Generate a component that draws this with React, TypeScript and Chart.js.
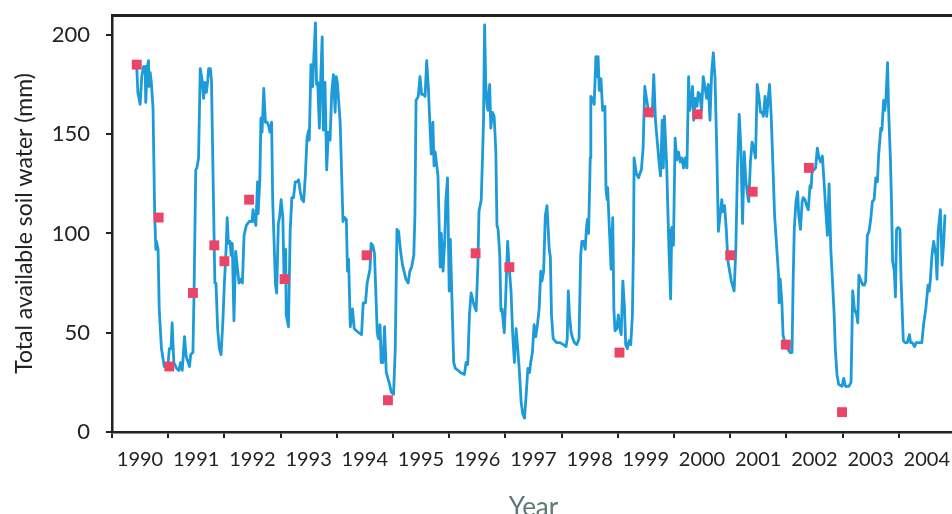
import React, { useEffect, useRef } from 'react';
import { Chart, registerables } from 'chart.js';

Chart.register(...registerables);

// ---- tick labels ----
const yearLabels = ['1990', '1991', '1992', '1993', '1994', '1995', '1996', '1997', '1998', '1999', '2000', '2001', '2002', '2003', '2004'];
const yTickValues = [0, 50, 100, 150, 200];

// ---- modelled soil water (line) ----
const years = [
  1990.44, 1990.46, 1990.50, 1990.53, 1990.56, 1990.59, 1990.60, 1990.63, 1990.65, 1990.66,
  1990.68, 1990.70, 1990.73, 1990.76, 1990.78, 1990.79, 1990.82, 1990.84, 1990.88, 1990.93,
  1991.00, 1991.02, 1991.05, 1991.07, 1991.10, 1991.15, 1991.19, 1991.22, 1991.25, 1991.29,
  1991.32, 1991.38, 1991.40, 1991.44, 1991.46, 1991.49, 1991.51, 1991.54, 1991.57, 1991.60,
  1991.63, 1991.65, 1991.68, 1991.70, 1991.72, 1991.75, 1991.77, 1991.80, 1991.83, 1991.85,
  1991.88, 1991.91, 1991.94, 1991.97, 1992.00, 1992.03, 1992.05, 1992.07, 1992.10, 1992.12,
  1992.14, 1992.17, 1992.20, 1992.23, 1992.26, 1992.29, 1992.32, 1992.35, 1992.39, 1992.44,
  1992.49, 1992.51, 1992.54, 1992.56, 1992.59, 1992.60, 1992.63, 1992.65, 1992.67, 1992.70,
  1992.73, 1992.76, 1992.79, 1992.81, 1992.84, 1992.86, 1992.91, 1992.93, 1992.96, 1992.98,
  1993.01, 1993.04, 1993.06, 1993.09, 1993.10, 1993.14, 1993.17, 1993.20, 1993.23, 1993.26,
  1993.29, 1993.32, 1993.35, 1993.38, 1993.41, 1993.44, 1993.47, 1993.50, 1993.51, 1993.54,
  1993.57, 1993.59, 1993.62, 1993.64, 1993.66, 1993.69, 1993.71, 1993.74, 1993.76, 1993.79,
  1993.82, 1993.85, 1993.88, 1993.91, 1993.94, 1993.97, 1993.99, 1994.01, 1994.06, 1994.11,
  1994.14, 1994.17, 1994.19, 1994.21, 1994.24, 1994.28, 1994.31, 1994.35, 1994.39, 1994.44,
  1994.47, 1994.51, 1994.54, 1994.59, 1994.61, 1994.64, 1994.67, 1994.72, 1994.74, 1994.77,
  1994.79, 1994.82, 1994.85, 1994.88, 1994.91, 1994.94, 1994.97, 1995.01, 1995.04, 1995.07,
  1995.10, 1995.13, 1995.17, 1995.23, 1995.27, 1995.30, 1995.33, 1995.37, 1995.39, 1995.41,
  1995.45, 1995.48, 1995.51, 1995.54, 1995.57, 1995.60, 1995.63, 1995.65, 1995.68, 1995.71,
  1995.73, 1995.75, 1995.78, 1995.80, 1995.82, 1995.84, 1995.86, 1995.89, 1995.92, 1995.94,
  1995.97, 1996.00, 1996.02, 1996.05, 1996.08, 1996.11, 1996.16, 1996.20, 1996.27, 1996.30,
  1996.33, 1996.36, 1996.39, 1996.44, 1996.48, 1996.51, 1996.53, 1996.57, 1996.59, 1996.61,
  1996.63, 1996.65, 1996.67, 1996.69, 1996.72, 1996.74, 1996.77, 1996.80, 1996.83, 1996.85,
  1996.87, 1996.90, 1996.92, 1996.94, 1996.98, 1997.00, 1997.04, 1997.07, 1997.10, 1997.13,
  1997.16, 1997.19, 1997.22, 1997.25, 1997.28, 1997.31, 1997.34, 1997.37, 1997.40, 1997.43,
  1997.45, 1997.48, 1997.51, 1997.54, 1997.57, 1997.60, 1997.63, 1997.65, 1997.68, 1997.71,
  1997.74, 1997.78, 1997.80, 1997.82, 1997.85, 1997.91, 1997.97, 1998.03, 1998.08, 1998.10,
  1998.12, 1998.14, 1998.17, 1998.20, 1998.23, 1998.27, 1998.31, 1998.34, 1998.36, 1998.39,
  1998.42, 1998.44, 1998.46, 1998.48, 1998.51, 1998.52, 1998.55, 1998.58, 1998.61, 1998.64,
  1998.65, 1998.67, 1998.70, 1998.73, 1998.77, 1998.79, 1998.81, 1998.82, 1998.85, 1998.86,
  1998.88, 1998.91, 1998.93, 1998.95, 1998.98, 1999.01, 1999.03, 1999.06, 1999.09, 1999.12,
  1999.14, 1999.17, 1999.20, 1999.23, 1999.26, 1999.28, 1999.29, 1999.33, 1999.37, 1999.39,
  1999.42, 1999.45, 1999.48, 1999.51, 1999.55, 1999.58, 1999.61, 1999.64, 1999.67, 1999.70,
  1999.73, 1999.76, 1999.79, 1999.81, 1999.83, 1999.87, 1999.90, 1999.91, 1999.94, 1999.96,
  1999.99, 2000.02, 2000.05, 2000.08, 2000.11, 2000.14, 2000.17, 2000.20, 2000.23, 2000.26,
  2000.28, 2000.31, 2000.33, 2000.35, 2000.38, 2000.41, 2000.43, 2000.46, 2000.49, 2000.52,
  2000.55, 2000.58, 2000.61, 2000.64, 2000.67, 2000.70, 2000.73, 2000.76, 2000.79, 2000.82,
  2000.85, 2000.87, 2000.90, 2000.93, 2000.96, 2001.02, 2001.07, 2001.10, 2001.13, 2001.16,
  2001.19, 2001.22, 2001.25, 2001.28, 2001.31, 2001.33, 2001.36, 2001.39, 2001.42, 2001.45,
  2001.48, 2001.51, 2001.54, 2001.57, 2001.59, 2001.62, 2001.65, 2001.68, 2001.70, 2001.73,
  2001.76, 2001.79, 2001.83, 2001.86, 2001.87, 2001.89, 2001.92, 2001.94, 2001.98, 2002.02,
  2002.07, 2002.10, 2002.12, 2002.14, 2002.17, 2002.20, 2002.22, 2002.25, 2002.28, 2002.30,
  2002.33, 2002.36, 2002.39, 2002.42, 2002.44, 2002.46, 2002.49, 2002.52, 2002.55, 2002.58,
  2002.61, 2002.64, 2002.67, 2002.70, 2002.73, 2002.76, 2002.79, 2002.82, 2002.85, 2002.87,
  2002.90, 2002.93, 2002.99, 2003.02, 2003.05, 2003.11, 2003.15, 2003.18, 2003.21, 2003.25,
  2003.27, 2003.29, 2003.33, 2003.36, 2003.39, 2003.41, 2003.44, 2003.47, 2003.50, 2003.53,
  2003.56, 2003.59, 2003.62, 2003.64, 2003.68, 2003.70, 2003.73, 2003.75, 2003.77, 2003.80,
  2003.82, 2003.85, 2003.87, 2003.89, 2003.92, 2003.94, 2003.96, 2003.99, 2004.02, 2004.04,
  2004.08, 2004.11, 2004.15, 2004.19, 2004.21, 2004.24, 2004.28, 2004.31, 2004.35, 2004.38,
  2004.41, 2004.44, 2004.48, 2004.52, 2004.54, 2004.56, 2004.59, 2004.62, 2004.66, 2004.68,
  2004.70, 2004.74, 2004.77, 2004.80, 2004.82,
];

const water = [
  184, 171, 165, 179, 184, 184, 166, 184, 187, 174,
  181, 176, 163, 109, 92, 96, 92, 62, 42, 33,
  35, 42, 42, 55, 35, 32, 31, 35, 31, 48,
  38, 33, 39, 40, 70, 132, 133, 138, 183, 178,
  168, 176, 171, 176, 183, 183, 177, 126, 75, 75,
  52, 42, 39, 54, 75, 92, 108, 95, 96, 89,
  95, 56, 91, 83, 75, 77, 75, 99, 104, 106,
  106, 112, 106, 104, 126, 110, 127, 158, 151, 173,
  156, 156, 154, 151, 156, 116, 74, 70, 105, 108,
  117, 108, 79, 92, 59, 53, 101, 118, 118, 126,
  126, 127, 121, 117, 116, 129, 148, 152, 147, 185,
  174, 188, 206, 175, 176, 153, 175, 199, 152, 176,
  132, 151, 147, 171, 180, 161, 179, 176, 156, 106,
  108, 107, 81, 87, 53, 62, 52, 51, 50, 49,
  65, 65, 75, 82, 95, 94, 90, 50, 47, 54,
  35, 35, 53, 30, 27, 24, 20, 19, 42, 102,
  101, 92, 84, 77, 75, 81, 83, 89, 109, 167,
  169, 179, 170, 170, 169, 187, 173, 159, 140, 156,
  134, 141, 134, 129, 106, 83, 100, 81, 96, 116,
  128, 71, 97, 66, 35, 32, 31, 30, 29, 35,
  34, 59, 70, 64, 61, 84, 111, 117, 136, 156,
  205, 176, 165, 162, 175, 153, 161, 159, 141, 104,
  102, 89, 61, 62, 50, 64, 96, 82, 71, 49,
  35, 52, 42, 30, 15, 9, 7, 19, 32, 30,
  35, 40, 54, 48, 54, 62, 81, 76, 81, 109,
  114, 92, 88, 59, 47, 45, 45, 44, 43, 47,
  71, 59, 50, 47, 45, 44, 47, 89, 96, 96,
  92, 102, 107, 100, 138, 169, 168, 165, 189, 179,
  189, 172, 178, 162, 164, 122, 117, 123, 102, 96,
  82, 108, 62, 51, 52, 59, 53, 49, 76, 62,
  44, 42, 46, 44, 59, 96, 138, 130, 128, 130,
  132, 143, 174, 168, 161, 160, 159, 180, 157, 147,
  137, 129, 157, 133, 159, 134, 102, 92, 67, 103,
  94, 148, 137, 141, 136, 138, 133, 138, 133, 179,
  162, 168, 174, 157, 168, 164, 171, 170, 162, 179,
  174, 168, 175, 157, 181, 191, 178, 143, 101, 109,
  117, 111, 114, 102, 86, 76, 71, 92, 134, 160,
  143, 105, 141, 126, 119, 116, 136, 146, 143, 138,
  175, 169, 161, 161, 159, 169, 159, 169, 175, 159,
  134, 109, 92, 79, 65, 77, 65, 49, 44, 42,
  40, 40, 76, 102, 116, 121, 109, 102, 116, 118,
  117, 114, 112, 124, 123, 133, 132, 133, 143, 138,
  136, 139, 126, 112, 99, 125, 92, 76, 59, 42,
  29, 24, 23, 27, 23, 23, 25, 71, 62, 59,
  55, 79, 76, 74, 74, 76, 99, 101, 107, 116,
  117, 128, 126, 139, 153, 152, 167, 162, 167, 186,
  161, 138, 116, 86, 81, 68, 102, 103, 102, 77,
  46, 45, 45, 49, 45, 45, 43, 45, 45, 45,
  45, 54, 62, 74, 71, 76, 89, 96, 89, 77,
  101, 112, 84, 96, 109,
];

// ---- measured soil water (red squares) ----
const sampleYears = [
  1990.44, 1990.83, 1991.02, 1991.44, 1991.82, 1992.00, 1992.44, 1993.07, 1994.53, 1994.91,
  1996.47, 1997.07, 1999.03, 1999.55, 2000.42, 2001.00, 2001.40, 2001.99, 2002.40, 2002.99,
];
const sampleWater = [
  185, 108, 33, 70, 94, 86, 117, 77, 89, 16,
  90, 83, 40, 161, 160, 89, 121, 44, 133, 10,
];

const FONT = 'Lato, "Open Sans", "DejaVu Sans", sans-serif';
const AXIS_COLOR = '#222222';

export default function App() {
  const canvasRef = useRef<HTMLCanvasElement | null>(null);

  useEffect(() => {
    const canvas = canvasRef.current;
    if (!canvas) return;
    const chart = new Chart(canvas, {
      type: 'line',
      data: {
        datasets: [
          {
            label: 'Measured',
            data: sampleYears.map((x, i) => ({ x, y: sampleWater[i] })),
            showLine: false,
            pointStyle: 'rect',
            pointRadius: 7,
            pointHoverRadius: 7,
            pointBackgroundColor: '#ec4467',
            pointBorderWidth: 0,
            order: 0,
          },
          {
            label: 'Modelled',
            data: years.map((x, i) => ({ x, y: water[i] })),
            borderColor: '#1d9ad8',
            borderWidth: 2.8,
            borderJoinStyle: 'round',
            borderCapStyle: 'round',
            pointRadius: 0,
            tension: 0,
            fill: false,
            order: 1,
          },
        ],
      },
      options: {
        responsive: false,
        animation: false,
        devicePixelRatio: 1,
        layout: { padding: { left: 0, right: 0, top: 15, bottom: 0 } },
        plugins: { legend: { display: false }, tooltip: { enabled: false } },
        scales: {
          x: {
            type: 'linear',
            position: 'bottom',
            min: 1990,
            max: 2005,
            afterFit: (s: any) => {
              s.height = 108;
              s.paddingLeft = 0;
              s.paddingRight = 0;
            },
            ticks: {
              stepSize: 1,
              includeBounds: false,
              autoSkip: false,
              maxRotation: 0,
              minRotation: 0,
              labelOffset: 28,
              padding: 10,
              color: AXIS_COLOR,
              font: { family: FONT, size: 20 },
              callback: (v: any) => yearLabels[Math.round(Number(v)) - 1990] ?? '',
            },
            grid: { drawOnChartArea: false, drawTicks: true, tickLength: 6, color: AXIS_COLOR, lineWidth: 2 },
            border: { display: true, color: AXIS_COLOR, width: 2.5 },
            title: {
              display: true,
              text: 'Year',
              color: '#5e7874',
              font: { family: FONT, size: 26 },
              padding: { top: 0, bottom: 17 },
            },
          },
          x2: {
            type: 'linear',
            position: 'top',
            min: 1990,
            max: 2005,
            afterFit: (s: any) => {
              s.height = 0;
              s.paddingLeft = 0;
              s.paddingRight = 0;
            },
            ticks: { display: false },
            grid: { display: false, drawTicks: false },
            border: { display: true, color: AXIS_COLOR, width: 3 },
          },
          y: {
            type: 'linear',
            position: 'left',
            min: 0,
            max: 210,
            afterFit: (s: any) => {
              s.width = 112;
              s.paddingTop = 0;
              s.paddingBottom = 0;
            },
            afterBuildTicks: (s: any) => {
              s.ticks = yTickValues.map((value) => ({ value }));
            },
            ticks: {
              stepSize: 50,
              includeBounds: false,
              padding: 16,
              color: AXIS_COLOR,
              font: { family: FONT, size: 22 },
            },
            grid: { drawOnChartArea: false, drawTicks: true, tickLength: 6, color: AXIS_COLOR, lineWidth: 2 },
            border: { display: true, color: AXIS_COLOR, width: 2.5 },
            title: {
              display: true,
              text: 'Total available soil water (mm)',
              color: AXIS_COLOR,
              font: { family: FONT, size: 23 },
              padding: { top: 11, bottom: 0 },
            },
          },
        },
      },
    } as any);
    return () => chart.destroy();
  }, []);

  return (
    <div
      style={{
        position: 'fixed',
        left: 0,
        top: 0,
        width: 952,
        height: 514,
        overflow: 'hidden',
        background: '#ffffff',
      }}
    >
      <canvas ref={canvasRef} width={962} height={540} style={{ display: 'block', width: 962, height: 540 }} />
    </div>
  );
}
